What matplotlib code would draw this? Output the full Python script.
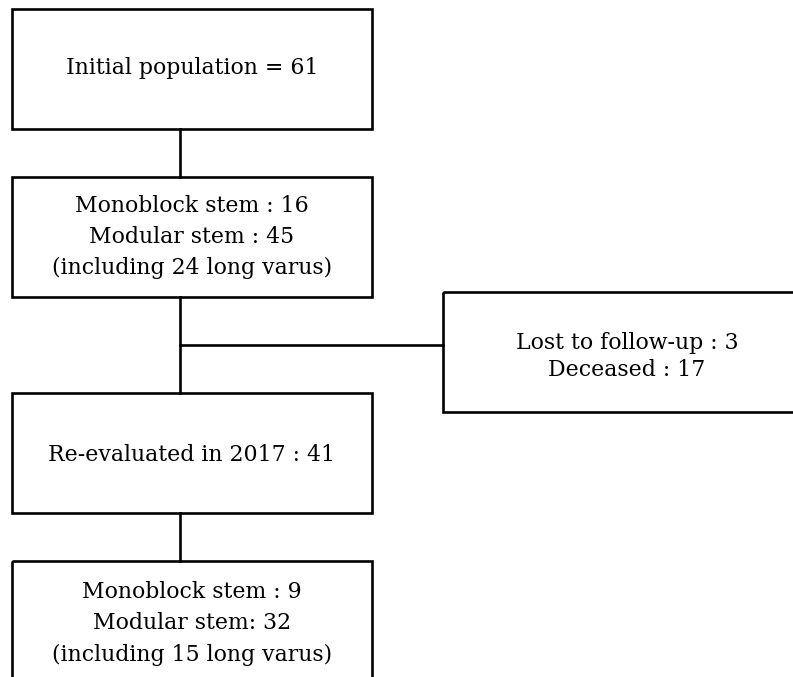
import matplotlib
matplotlib.use("Agg")
import matplotlib.pyplot as plt
from matplotlib.patches import Rectangle

# box texts, one list of lines per box
initial_lines = ["Initial population = 61"]
stems_2010_lines = ["Monoblock stem : 16", "Modular stem : 45", "(including 24 long varus)"]
excluded_lines = ["Lost to follow-up : 3", "Deceased : 17"]
revaluated_lines = ["Re-evaluated in 2017 : 41"]
stems_2017_lines = ["Monoblock stem : 9", "Modular stem: 32", "(including 15 long varus)"]

W, H = 793, 677
fig = plt.figure(figsize=(W / 100, H / 100), dpi=100)
ax = fig.add_axes([0, 0, 1, 1])
ax.set_xlim(0, W)
ax.set_ylim(H, 0)
ax.axis("off")

lw = 1.9
font = dict(family="DejaVu Serif", fontsize=15.8, color="black")


def box(x0, y0, x1, y1, lines, gap, cy=None):
    ax.add_patch(Rectangle((x0, y0), x1 - x0, y1 - y0, fill=False,
                           edgecolor="black", linewidth=lw, clip_on=False))
    cx = (x0 + x1) / 2
    if cy is None:
        cy = (y0 + y1) / 2
    n = len(lines)
    for i, s in enumerate(lines):
        y = cy + (i - (n - 1) / 2) * gap
        ax.text(cx, y, s, ha="center", va="center", **font)


box(12, 9, 372, 129, initial_lines, 31, cy=68)
box(12, 177, 372, 297, stems_2010_lines, 31, cy=237)
box(443, 292, 811, 412, excluded_lines, 27, cy=356)
box(12, 393, 372, 513, revaluated_lines, 31, cy=455)
# last box runs off the bottom of the picture
box(12, 561, 372, 745, stems_2017_lines, 31.5, cy=623)

# connectors
ax.plot([180, 180], [129, 177], color="black", lw=lw)
ax.plot([180, 180], [297, 393], color="black", lw=lw)
ax.plot([180, 443], [345, 345], color="black", lw=lw)
ax.plot([180, 180], [513, 561], color="black", lw=lw)

fig.savefig("out.png", dpi=100)
